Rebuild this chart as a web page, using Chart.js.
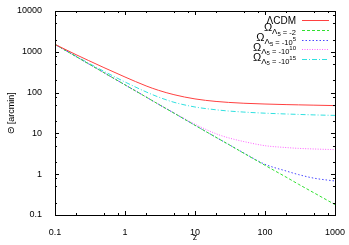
<!DOCTYPE html>
<html lang="en">
<head>
   <meta charset="UTF-8">
   <title>Angular size vs redshift</title>
   <script src="https://cdn.jsdelivr.net/npm/chart.js"></script>
   <style>
       body {
           margin: 0;
           padding: 0;
           background: #fff;
       }
       #wrap {
           width: 349px;
           height: 245px;
       }
   </style>
</head>
<body>
   <div id="wrap"><canvas id="myChart" width="349" height="245"></canvas></div>
   <script>
       // redshift samples
       const zValues = [0.1, 0.2, 0.3, 0.5, 1, 2, 3, 5, 10, 20, 30, 50, 100, 200, 300, 500, 1000];

       // theta [arcmin] for each model
       const lcdm     = [1520, 850, 614, 410, 241, 146, 114, 89, 70, 60.7, 57.5, 54.8, 52.5, 50.8, 50.1, 49.2, 48];
       const om2      = [1520, 765, 510, 308, 155, 78, 52, 31.5, 15.8, 8, 5.4, 3.25, 1.65, 0.85, 0.57, 0.35, 0.18];
       const om1e5    = [1520, 765, 510, 308, 155, 78, 52, 31.5, 15.8, 8, 5.4, 3.3, 1.75, 1.2, 0.98, 0.8, 0.68];
       const om1e10   = [1520, 765, 510, 308, 155, 78, 52, 31.8, 16.8, 9.8, 7.8, 6.3, 5.0, 4.5, 4.3, 4.15, 4.0];
       const om1e15   = [1520, 780, 531, 333, 182, 104, 78, 58, 44.4, 37.9, 35.4, 33.3, 31.3, 29.9, 29.2, 28.4, 27.6];

       const xTicks = [0.1, 1, 10, 100, 1000];
       const xTickLabels = ['0.1', '1', '10', '100', '1000'];
       const yTicks = [0.1, 1, 10, 100, 1000, 10000];
       const yTickLabels = ['0.1', '1', '10', '100', '1000', '10000'];
       const minorSteps = [2, 5, 8];

       const toPoints = arr => arr.map((v, i) => ({ x: zValues[i], y: v }));

       const series = [
           { label: 'ΛCDM',  data: lcdm,   color: '#ff4040', dash: [],            sup: null },
           { label: '-2',    data: om2,    color: '#30e030', dash: [3, 2],        sup: null },
           { label: '-10',   data: om1e5,  color: '#4848ff', dash: [1.5, 2],      sup: '5' },
           { label: '-10',   data: om1e10, color: '#ff60ff', dash: [1, 1.5],      sup: '10' },
           { label: '-10',   data: om1e15, color: '#30e0e0', dash: [5, 2, 1, 2],  sup: '15' }
       ];

       const fontFam = '"Liberation Sans", Arial, sans-serif';

       // gnuplot style ticks, inside the box on all four sides
       const boxTicks = {
           id: 'boxTicks',
           afterDatasetsDraw(chart) {
               const ctx = chart.ctx;
               const a = chart.chartArea;
               const xs = chart.scales.x, ys = chart.scales.y;
               ctx.save();
               ctx.strokeStyle = '#000';
               ctx.lineWidth = 1;
               ctx.beginPath();
               xTicks.forEach((v, i) => {
                   const marks = [[v, 4]];
                   if (i < xTicks.length - 1) minorSteps.forEach(m => marks.push([v * m, 2]));
                   marks.forEach(([val, len]) => {
                       const px = Math.round(xs.getPixelForValue(val)) + 0.5;
                       ctx.moveTo(px, a.bottom); ctx.lineTo(px, a.bottom - len);
                       ctx.moveTo(px, a.top); ctx.lineTo(px, a.top + len);
                   });
               });
               yTicks.forEach((v, i) => {
                   const marks = [[v, 4]];
                   if (i < yTicks.length - 1) minorSteps.forEach(m => marks.push([v * m, 2]));
                   marks.forEach(([val, len]) => {
                       const py = Math.round(ys.getPixelForValue(val)) + 0.5;
                       ctx.moveTo(a.left, py); ctx.lineTo(a.left + len, py);
                       ctx.moveTo(a.right, py); ctx.lineTo(a.right - len, py);
                   });
               });
               ctx.stroke();
               ctx.strokeRect(Math.round(a.left) + 0.5, Math.round(a.top) + 0.5,
                   Math.round(a.right - a.left), Math.round(a.bottom - a.top));
               ctx.restore();
           }
       };

       // key in the top right corner: text right aligned, sample line after it
       const keyBox = {
           id: 'keyBox',
           afterDatasetsDraw(chart) {
               const ctx = chart.ctx;
               const textRight = 296;
               const lineX0 = 302, lineX1 = 329;
               ctx.save();
               ctx.fillStyle = '#000';
               ctx.textBaseline = 'alphabetic';
               series.forEach((s, i) => {
                   const yMid = 20 + i * 9.8;
                   if (i === 0) {
                       ctx.font = '10px ' + fontFam;
                       ctx.textAlign = 'right';
                       ctx.fillText(s.label, textRight, yMid + 3.5);
                   } else {
                       // Omega_{Lambda_5} = value^{exp}
                       const parts = [
                           { t: 'Ω', f: '11px ' + fontFam, dy: 1.5 },
                           { t: 'Λ', f: '8px ' + fontFam, dy: 4.5 },
                           { t: '5', f: '6px ' + fontFam, dy: 6 },
                           { t: ' = ' + s.label, f: '7.5px ' + fontFam, dy: 5 }
                       ];
                       if (s.sup) parts.push({ t: s.sup, f: '6px ' + fontFam, dy: 1 });
                       let w = 0;
                       parts.forEach(p => { ctx.font = p.f; p.w = ctx.measureText(p.t).width; w += p.w; });
                       let x = textRight - w;
                       ctx.textAlign = 'left';
                       parts.forEach(p => {
                           ctx.font = p.f;
                           ctx.fillText(p.t, x, yMid + p.dy);
                           x += p.w;
                       });
                   }
                   ctx.strokeStyle = s.color;
                   ctx.lineWidth = 1;
                   ctx.setLineDash(s.dash);
                   ctx.beginPath();
                   ctx.moveTo(lineX0, Math.round(yMid) + 0.5);
                   ctx.lineTo(lineX1, Math.round(yMid) + 0.5);
                   ctx.stroke();
                   ctx.setLineDash([]);
               });
               ctx.restore();
           }
       };

       const ctx = document.getElementById('myChart').getContext('2d');
       const chart = new Chart(ctx, {
           type: 'line',
           data: {
               datasets: series.map(s => ({
                   label: s.label,
                   data: toPoints(s.data),
                   borderColor: s.color,
                   borderWidth: 1,
                   borderDash: s.dash,
                   pointRadius: 0,
                   fill: false,
                   cubicInterpolationMode: 'monotone'
               }))
           },
           options: {
               responsive: false,
               animation: false,
               devicePixelRatio: 1,
               layout: { padding: { top: 11, right: 9, left: 0, bottom: 0 } },
               plugins: {
                   legend: { display: false },
                   tooltip: { enabled: false }
               },
               scales: {
                   x: {
                       type: 'logarithmic',
                       min: 0.1,
                       max: 1000,
                       afterBuildTicks: s => { s.ticks = xTicks.map(v => ({ value: v })); },
                       afterFit: s => { s.height = 30; },
                       grid: { display: false },
                       border: { display: false },
                       ticks: {
                           padding: 4,
                           maxRotation: 0,
                           autoSkip: false,
                           color: '#000',
                           font: { family: fontFam, size: 9 },
                           callback: (v, i) => xTickLabels[i]
                       },
                       title: {
                           display: true,
                           text: 'z',
                           color: '#000',
                           padding: { top: 0, bottom: 2 },
                           font: { family: fontFam, size: 9 }
                       }
                   },
                   y: {
                       type: 'logarithmic',
                       min: 0.1,
                       max: 10000,
                       afterBuildTicks: s => { s.ticks = yTicks.map(v => ({ value: v })); },
                       afterFit: s => { s.width = 55; },
                       grid: { display: false },
                       border: { display: false },
                       ticks: {
                           padding: 5,
                           autoSkip: false,
                           color: '#000',
                           font: { family: fontFam, size: 9 },
                           callback: (v, i) => yTickLabels[i]
                       },
                       title: {
                           display: true,
                           text: 'Θ [arcmin]',
                           color: '#000',
                           padding: { top: 6, bottom: 0 },
                           font: { family: fontFam, size: 9 }
                       }
                   }
               }
           },
           plugins: [boxTicks, keyBox]
       });
   </script>
</body>
</html>
